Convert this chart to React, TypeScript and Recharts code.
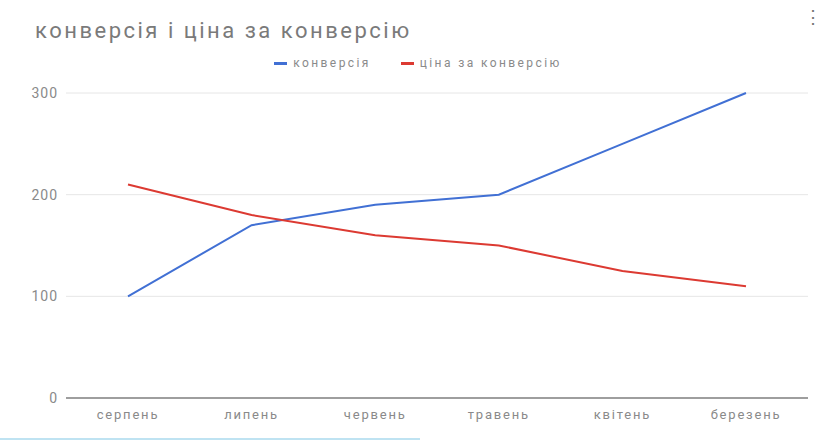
import { CartesianGrid, Legend, Line, LineChart, XAxis, YAxis } from "recharts"

const months = ["серпень", "липень", "червень", "травень", "квітень", "березень"]
const conversions = [100, 170, 190, 200, 250, 300]
const costPerConversion = [210, 180, 160, 150, 125, 110]
const yTicks = [0, 100, 200, 300]

const data = months.map((month, i) => ({
  month,
  conv: conversions[i],
  cost: costPerConversion[i],
}))

const font = "Roboto, Arial, sans-serif"

function LegendRow({ payload }: any) {
  return (
    <div style={{ display: "flex", justifyContent: "center", alignItems: "center", height: 14, fontFamily: font }}>
      {(payload || []).map((p: any, i: number) => (
        <div key={i} style={{ display: "flex", alignItems: "center", marginLeft: i ? 30 : 0 }}>
          <div style={{ width: 13, height: 3, background: p.color, marginRight: 6 }} />
          <span style={{ color: "#8a8a8a", fontSize: 12, letterSpacing: 2.4 }}>{p.value}</span>
        </div>
      ))}
    </div>
  )
}

export default function App() {
  return (
    <div style={{ position: "absolute", left: 0, top: 0, width: 836, height: 441, background: "#fff", fontFamily: font, overflow: "hidden" }}>
      <div style={{ position: "absolute", left: 35, top: 18, fontSize: 22, letterSpacing: 2.5, color: "#7a7a7a" }}>
        конверсія і ціна за конверсію
      </div>
      <div style={{ position: "absolute", right: 14, top: 6, fontSize: 18, color: "#757575" }}>⋮</div>
      <LineChart width={836} height={441} data={data} margin={{ top: 79, right: 28, bottom: 13, left: 0 }}>
        <CartesianGrid horizontal vertical={false} stroke="#e6e6e6" />
        <XAxis
          dataKey="month"
          padding={{ left: 62, right: 62 }}
          height={30}
          tickLine={false}
          axisLine={{ stroke: "#9e9e9e", strokeWidth: 2 }}
          tick={{ fill: "#8a8a8a", fontSize: 13, fontFamily: font, style: { letterSpacing: 1.8 } }}
          tickMargin={6}
        />
        <YAxis
          width={66}
          domain={[0, 300]}
          ticks={yTicks}
          axisLine={false}
          tickLine={false}
          tick={{ fill: "#8a8a8a", fontSize: 14, fontFamily: font, style: { letterSpacing: 1 } }}
        />
        <Legend
          verticalAlign="top"
          align="center"
          content={<LegendRow />}
          wrapperStyle={{ top: 56, left: 0, width: 836 }}
        />
        <Line type="linear" dataKey="conv" name="конверсія" stroke="#4170d4" strokeWidth={2} dot={false} isAnimationActive={false} />
        <Line type="linear" dataKey="cost" name="ціна за конверсію" stroke="#dc3a32" strokeWidth={2} dot={false} isAnimationActive={false} />
      </LineChart>
      <div style={{ position: "absolute", left: 0, bottom: 1, width: 420, height: 2, background: "#bfe3f2" }} />
    </div>
  )
}
